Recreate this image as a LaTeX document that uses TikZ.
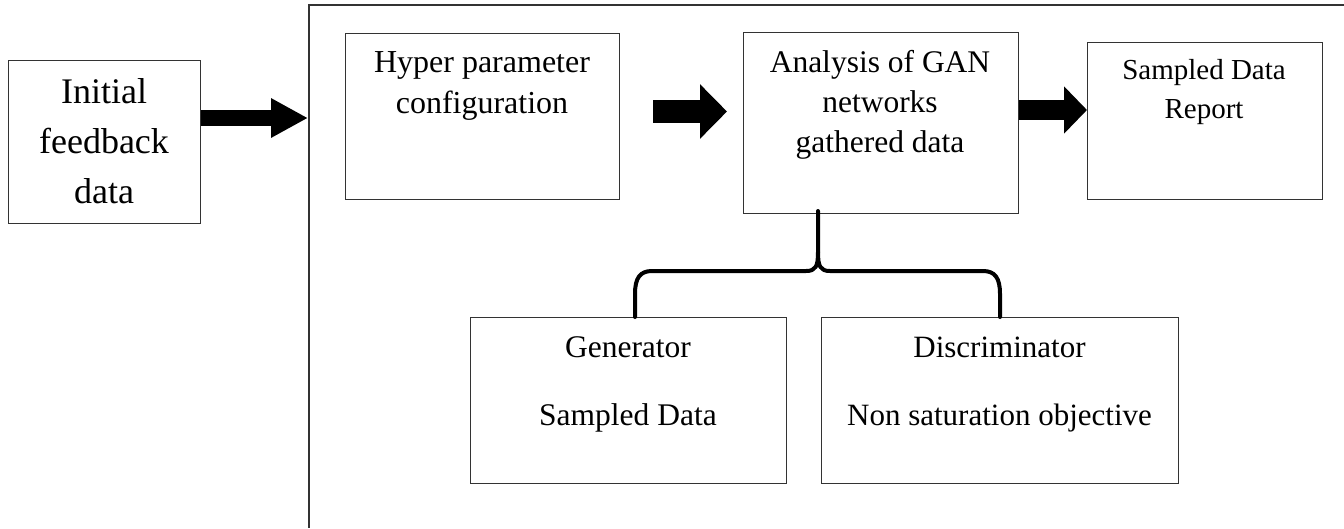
\documentclass[tikz,border=0pt]{standalone}
\usepackage{fontspec}
\setmainfont{Liberation Serif}
\usetikzlibrary{arrows.meta}
\newcommand{\mlines}[1]{\begin{tabular}[t]{@{}c@{}}#1\end{tabular}}
\begin{document}
\begin{tikzpicture}[x=1pt,y=-1pt,
  box/.style={draw=black!80, line width=1.3pt, inner sep=0pt, anchor=north west},
  lbl/.style={inner sep=0pt, anchor=base, text=black},
  frameline/.style={draw=black!80, line width=1.3pt},
  bracepath/.style={draw=black, line width=4pt, line cap=round, line join=round}]
\useasboundingbox (0,0) rectangle (1344,528);

% boxes
\node[box, minimum width=192pt, minimum height=163pt] (init) at (8,60) {};
\node[box, minimum width=274pt, minimum height=166pt] (hyper) at (345,33) {};
\node[box, minimum width=275pt, minimum height=181pt] (anal) at (743,32) {};
\node[box, minimum width=235pt, minimum height=157pt] (report) at (1087,42) {};
\node[box, minimum width=316pt, minimum height=166pt] (gen) at (470,317) {};
\node[box, minimum width=357pt, minimum height=166pt] (disc) at (821,317) {};

% texts
\node[lbl, font=\fontsize{36}{50}\selectfont] (init-t) at (104,103) {\mlines{Initial\\feedback\\data}};
\node[lbl, font=\fontsize{32}{41}\selectfont] (hyper-t) at (482,72) {\mlines{Hyper parameter\\configuration}};
\node[lbl, font=\fontsize{31.5}{40}\selectfont] (anal-t) at (880,72) {\mlines{Analysis of GAN\\networks\\gathered data}};
\node[lbl, font=\fontsize{29}{39}\selectfont] (report-t) at (1204,79) {\mlines{Sampled Data\\Report}};
\node[lbl, font=\fontsize{31.5}{68}\selectfont] (gen-t) at (628,357) {\mlines{Generator\\Sampled Data}};
\node[lbl, font=\fontsize{31}{68}\selectfont] (disc-t) at (999.5,357) {\mlines{Discriminator\\Non saturation objective}};

% outer frame (cropped)
\coordinate (fTL) at (309,5);
\draw[frameline] (1344,5) -- (fTL) -- (309,528);

% block arrows
\coordinate (a1e) at (308,118);
\draw[line width=16pt, -{Triangle[length=37pt,width=37pt]}] (init.east |- a1e) -- (a1e);
\coordinate (a2s) at (653,111.5);
\coordinate (a2e) at (727,111.5);
\draw[line width=23pt, -{Triangle[length=27pt,width=53pt]}] (a2s) -- (a2e);
\coordinate (a3e) at (1088,110);
\draw[line width=20pt, -{Triangle[length=23pt,width=46pt]}] (anal.east |- a3e) -- (report.west |- a3e);

% brace
\coordinate (bt) at (818,211);
\coordinate (bl) at (635,317);
\coordinate (br) at (1000,317);
\draw[bracepath] (bt) -- (818,252) .. controls (818,266) and (816,271) .. (806,271) -- (652,271) .. controls (640,271) and (635,278) .. (635,294) -- (bl);
\draw[bracepath] (818,252) .. controls (818,266) and (820,271) .. (830,271) -- (983,271) .. controls (995,271) and (1000,278) .. (1000,294) -- (br);
\end{tikzpicture}
\end{document}
